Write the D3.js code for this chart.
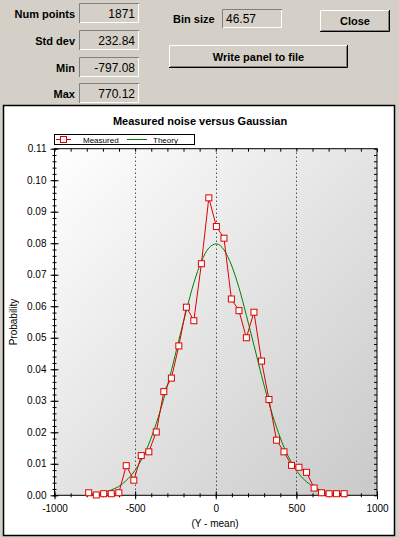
<!DOCTYPE html>
<html>
<head>
<meta charset="utf-8">
<script src="https://cdn.jsdelivr.net/npm/d3@7"></script>
<style>
  body { margin: 0; background: #d4d0c8; }
  svg { display: block; font-family: "Liberation Sans", Arial, sans-serif; }
</style>
</head>
<body>
<div id="chart"></div>
<script>
// bin centres (Y - mean) and probabilities
var binCenters = [-788, -741, -695, -648, -601, -555, -508, -462, -415, -369, -322, -275, -229, -182, -136, -89, -43, 4, 51, 97,
	144, 190, 237, 284, 330, 377, 423, 470, 516, 563, 610, 656, 703, 749, 796];
var measured = [0.0008, 0.0001, 0.0005, 0.0005, 0.0008, 0.0094, 0.0048, 0.0126, 0.0138, 0.0201, 0.0329, 0.0372, 0.0474, 0.0597, 0.0554,
	0.0735, 0.0944, 0.0853, 0.0816, 0.0623, 0.0586, 0.0500, 0.0581, 0.0426, 0.0304, 0.0175, 0.0138, 0.0095, 0.0089, 0.0073,
	0.0023, 0.0008, 0.0005, 0.0005, 0.0005];
var theory = [0.0003, 0.0005, 0.0009, 0.0017, 0.0028, 0.0047, 0.0074, 0.0112, 0.0163, 0.0228, 0.0307, 0.0396, 0.0492, 0.0587, 0.0674,
	0.0742, 0.0785, 0.0798, 0.0779, 0.0731, 0.0659, 0.0571, 0.0476, 0.0380, 0.0292, 0.0216, 0.0153, 0.0104, 0.0068, 0.0043,
	0.0026, 0.0015, 0.0008, 0.0005, 0.0002];
var xMajor = [-1000, -500, 0, 500, 1000];
var yMajor = [0, 0.01, 0.02, 0.03, 0.04, 0.05, 0.06, 0.07, 0.08, 0.09, 0.10, 0.11];
var gridLines = [-500, 0, 500];
var statLabels = ["Num points", "Std dev", "Min", "Max"];
var statValues = ["1871", "232.84", "-797.08", "770.12"];
var binSize = "46.57";
var seriesNames = ["Measured", "Theory"];

var width = 399,
	height = 538;

var svg = d3.select("#chart")
	.append("svg")
	.attr("width", width)
	.attr("height", height);

// ---- dialog controls ----
function sunken(x, y, w, h) {
	svg.append("rect").attr("x", x).attr("y", y).attr("width", w).attr("height", h).attr("fill", "#d4d0c8");
	svg.append("path").attr("d", "M" + (x + 0.5) + "," + (y + h) + "V" + (y + 0.5) + "H" + (x + w))
		.attr("stroke", "#808080").attr("fill", "none");
	svg.append("path").attr("d", "M" + (x + 1) + "," + (y + h - 0.5) + "H" + (x + w - 0.5) + "V" + (y + 1))
		.attr("stroke", "#ffffff").attr("fill", "none");
}

function button(x, y, w, h, label) {
	svg.append("rect").attr("x", x).attr("y", y).attr("width", w).attr("height", h).attr("fill", "#d4d0c8");
	svg.append("path").attr("d", "M" + (x + 0.5) + "," + (y + h - 1) + "V" + (y + 0.5) + "H" + (x + w - 1))
		.attr("stroke", "#ffffff").attr("fill", "none");
	svg.append("path").attr("d", "M" + x + "," + (y + h - 0.5) + "H" + (x + w - 0.5) + "V" + y)
		.attr("stroke", "#000").attr("fill", "none");
	svg.append("path").attr("d", "M" + (x + 1) + "," + (y + h - 1.5) + "H" + (x + w - 1.5) + "V" + (y + 1))
		.attr("stroke", "#808080").attr("fill", "none");
	svg.append("text").attr("x", x + w / 2).attr("y", y + h / 2 + 4)
		.attr("text-anchor", "middle").attr("font-size", 11).attr("font-weight", "bold")
		.text(label);
}

var boxTops = [3, 30, 57, 83];
statLabels.forEach(function(lab, i) {
	sunken(79, boxTops[i], 60, 20);
	svg.append("text").attr("x", 75).attr("y", boxTops[i] + 15)
		.attr("text-anchor", "end").attr("font-size", 11).attr("font-weight", "bold")
		.text(lab);
	svg.append("text").attr("x", 135).attr("y", boxTops[i] + 15)
		.attr("text-anchor", "end").attr("font-size", 12)
		.text(statValues[i]);
});

svg.append("text").attr("x", 173).attr("y", 23)
	.attr("font-size", 11).attr("font-weight", "bold").text("Bin size");
sunken(222, 9, 60, 19);
svg.append("text").attr("x", 226).attr("y", 23).attr("font-size", 12).text(binSize);

button(320, 10, 70, 22, "Close");
button(169, 45, 179, 23, "Write panel to file");

// ---- chart panel ----
svg.append("rect")
	.attr("x", 3.5).attr("y", 105.5)
	.attr("width", 391).attr("height", 430)
	.attr("fill", "#ffffff")
	.attr("stroke", "#000")
	.attr("stroke-width", 1.5);

var x = d3.scaleLinear().domain([-1000, 1000]).range([54.5, 377]);
var y = d3.scaleLinear().domain([0, 0.11]).range([495.3, 148.7]);

var defs = svg.append("defs");
var grad = defs.append("linearGradient")
	.attr("id", "bg")
	.attr("x1", 0).attr("y1", 0).attr("x2", 1).attr("y2", 1);
grad.append("stop").attr("offset", "0%").attr("stop-color", "#ffffff");
grad.append("stop").attr("offset", "100%").attr("stop-color", "#c9c9c9");

svg.append("rect")
	.attr("x", x(-1000)).attr("y", y(0.11))
	.attr("width", x(1000) - x(-1000)).attr("height", y(0) - y(0.11))
	.attr("fill", "url(#bg)")
	.attr("stroke", "#000");

svg.selectAll(".grid")
	.data(gridLines)
	.enter().append("line")
	.attr("class", "grid")
	.attr("x1", function(d) { return Math.round(x(d)) + 0.5; })
	.attr("x2", function(d) { return Math.round(x(d)) + 0.5; })
	.attr("y1", y(0.11))
	.attr("y2", y(0))
	.attr("stroke", "#000")
	.attr("stroke-dasharray", "1,3");

var xMinor = d3.range(-1000, 1001, 100);
var yMinor = d3.range(0, 0.1101, 0.002);

function styleAxis(g) {
	g.select(".domain").remove();
	g.selectAll("text").attr("font-size", 10).attr("font-family", "Liberation Sans, Arial, sans-serif").attr("fill", "#000");
	g.selectAll("line").attr("stroke", "#000");
}

// bottom axis: ticks cross the axis
var bottomMinor = svg.append("g").attr("transform", "translate(0," + y(0) + ")")
	.call(d3.axisBottom(x).tickValues(xMinor).tickSize(2).tickFormat(""));
bottomMinor.selectAll(".tick line").attr("y1", -2);
styleAxis(bottomMinor);

var bottomAxis = svg.append("g").attr("transform", "translate(0," + y(0) + ")")
	.call(d3.axisBottom(x).tickValues(xMajor).tickSize(4).tickPadding(6).tickFormat(function(d) { return String(d); }));
bottomAxis.selectAll(".tick line").attr("y1", -4);
styleAxis(bottomAxis);

// left axis
var leftMinor = svg.append("g").attr("transform", "translate(" + x(-1000) + ",0)")
	.call(d3.axisLeft(y).tickValues(yMinor).tickSize(2).tickFormat(""));
leftMinor.selectAll(".tick line").attr("x1", 2);
styleAxis(leftMinor);

var leftAxis = svg.append("g").attr("transform", "translate(" + x(-1000) + ",0)")
	.call(d3.axisLeft(y).tickValues(yMajor).tickSize(4).tickPadding(4).tickFormat(d3.format(".2f")));
leftAxis.selectAll(".tick line").attr("x1", 4);
styleAxis(leftAxis);

// top and right axes: inward ticks only
var topAxis = svg.append("g").attr("transform", "translate(0," + y(0.11) + ")")
	.call(d3.axisTop(x).tickValues(xMinor).tickSize(-3).tickFormat(""));
styleAxis(topAxis);
var rightAxis = svg.append("g").attr("transform", "translate(" + x(1000) + ",0)")
	.call(d3.axisRight(y).tickValues(yMinor).tickSize(-3).tickFormat(""));
styleAxis(rightAxis);

svg.append("text")
	.attr("x", 215).attr("y", 527)
	.attr("text-anchor", "middle").attr("font-size", 10)
	.text("(Y - mean)");

svg.append("text")
	.attr("transform", "translate(17,322) rotate(-90)")
	.attr("text-anchor", "middle").attr("font-size", 10)
	.text("Probability");

svg.append("text")
	.attr("x", 200).attr("y", 125)
	.attr("text-anchor", "middle").attr("font-size", 11).attr("font-weight", "bold")
	.text("Measured noise versus Gaussian");

// ---- series ----
var points = binCenters.map(function(c, i) {
	return { x: c, m: measured[i], t: theory[i] };
});

var theoryLine = d3.line()
	.x(function(d) { return x(d.x); })
	.y(function(d) { return y(d.t); })
	.curve(d3.curveMonotoneX);

var measuredLine = d3.line()
	.x(function(d) { return x(d.x); })
	.y(function(d) { return y(d.m); });

svg.append("path")
	.datum(points)
	.attr("d", theoryLine)
	.attr("fill", "none")
	.attr("stroke", "#008000");

svg.append("path")
	.datum(points)
	.attr("d", measuredLine)
	.attr("fill", "none")
	.attr("stroke", "#e00000");

svg.selectAll(".pt")
	.data(points)
	.enter().append("rect")
	.attr("class", "pt")
	.attr("x", function(d) { return x(d.x) - 3; })
	.attr("y", function(d) { return y(d.m) - 3; })
	.attr("width", 6)
	.attr("height", 6)
	.attr("fill", "#ffffff")
	.attr("stroke", "#e00000");

// ---- legend ----
var legend = svg.append("g");
legend.append("rect")
	.attr("x", 54.5).attr("y", 134.5)
	.attr("width", 140).attr("height", 10)
	.attr("fill", "#ffffff").attr("stroke", "#000");
legend.append("line").attr("x1", 56).attr("x2", 71).attr("y1", 139.5).attr("y2", 139.5).attr("stroke", "#e00000");
legend.append("rect").attr("x", 60.5).attr("y", 136.5).attr("width", 6).attr("height", 6)
	.attr("fill", "#fff").attr("stroke", "#e00000");
legend.append("text").attr("x", 83).attr("y", 143).attr("font-size", 8).text(seriesNames[0]);
legend.append("line").attr("x1", 127).attr("x2", 147).attr("y1", 139.5).attr("y2", 139.5).attr("stroke", "#008000");
legend.append("text").attr("x", 153).attr("y", 143).attr("font-size", 8).text(seriesNames[1]);
</script>
</body>
</html>
